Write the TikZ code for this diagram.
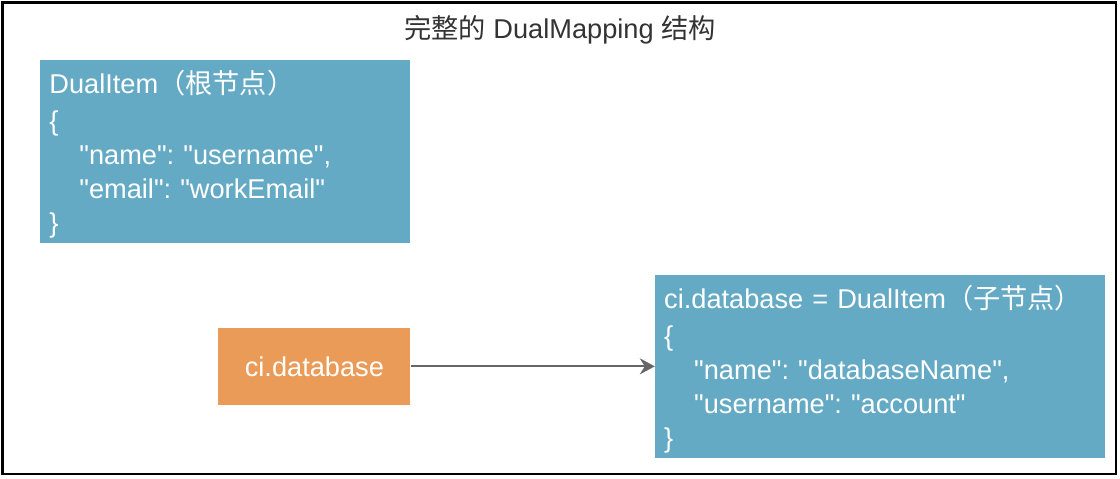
\documentclass[tikz,border=0pt]{standalone}
\usepackage{fontspec}
\setmainfont{Liberation Sans}[Ligatures=TeXOff]
\newfontfamily\cjk{Noto Sans CJK SC}
\usetikzlibrary{positioning,arrows.meta}
\definecolor{itemblue}{HTML}{65AAC4}
\definecolor{keyorange}{HTML}{EB9B58}
\definecolor{titlegray}{HTML}{333333}
\definecolor{arrowgray}{HTML}{666666}
\tikzset{
	itembox/.style={fill=itemblue,text=white,anchor=north west,align=left,inner xsep=4.5pt,inner ysep=2.5pt,
		font=\fontsize{13.6}{17}\selectfont},
	keybox/.style={fill=keyorange,text=white,minimum width=96pt,minimum height=38.5pt,
		inner sep=0pt,font=\fontsize{13.6}{16.5}\selectfont},
	link/.style={draw=arrowgray,line width=1pt,-{Stealth[length=7.5pt,width=8pt,inset=2.5pt]}},
}
\newcommand{\ind}{\hspace*{15pt}}
\newcommand{\topstrut}{\rule{0pt}{14pt}}
\frenchspacing
\begin{document}
\begin{tikzpicture}[x=1pt,y=-1pt]
	\useasboundingbox (0,0) rectangle (560,239);
	%% 外框与标题
	\draw[line width=1.2pt] (1.25,1.25) rectangle (558,237);
	\node[text=titlegray,font=\fontsize{13.6}{16.5}\selectfont] (title) at (280,15)
		{{\cjk 完整的} DualMapping {\cjk 结构}};
	%% 根节点
	\node[itembox,text width=176pt,minimum height=91pt] (root) at (20,30)
		{\topstrut DualItem{\cjk （根节点）}\\[1.5pt]
		\{\\
		\ind"name": "username",\\
		\ind"email": "workEmail"\\
		\}};
	%% 键
	\node[keybox,below left =42pt and 0pt of root.south east] (cidb) {ci.database};
	%% 子节点
	\node[itembox,anchor=west,text width=216pt,minimum height=90.5pt,right =122pt of cidb] (child)
		{\topstrut ci.database = DualItem{\cjk （子节点）}\\[1.5pt]
		\{\\
		\ind"name": "databaseName",\\
		\ind"username": "account"\\
		\}};
	% 连线
	\draw[link] (cidb) -- (child);
\end{tikzpicture}
\end{document}
